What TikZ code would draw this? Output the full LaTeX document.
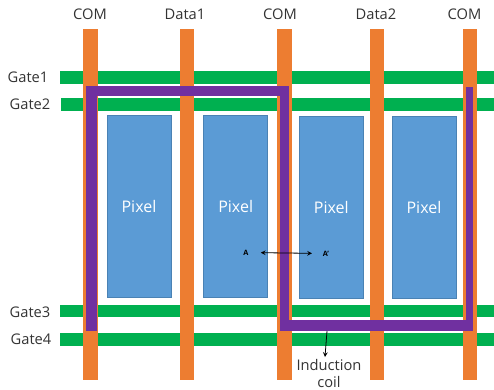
\documentclass[tikz,border=0pt]{standalone}
\usepackage{fontspec}
\setmainfont{Open Sans}
\usetikzlibrary{arrows,positioning}

\definecolor{gategreen}{HTML}{00B050}
\definecolor{linkorange}{HTML}{ED7D31}
\definecolor{coilpurple}{HTML}{7030A0}
\definecolor{pixelblue}{HTML}{5B9BD5}
\definecolor{pixeledge}{HTML}{4A82B4}
\definecolor{labelgray}{HTML}{333333}

\begin{document}
\begin{tikzpicture}[
    x=0.75pt, y=-0.75pt,
    node distance=24pt,
    gateline/.style={fill=gategreen},
    rail/.style={fill=linkorange},
    coil/.style={fill=coilpurple},
    pixel/.style={rectangle, draw=pixeledge, fill=pixelblue, line width=0.5pt, minimum width=48pt, minimum height=136.5pt, inner sep=0pt, text=white, font=\fontsize{12}{14}\selectfont},
    tag/.style={inner sep=0pt, text=labelgray, align=center, font=\fontsize{11}{13}\selectfont},
    cut/.style={inner sep=0pt, font=\rmfamily\bfseries\fontsize{5.5}{6}\selectfont},
    arrow/.style={->, >=stealth, line width=0.6pt}
]
\useasboundingbox (0,0) rectangle (494,390);

% Gate lines
\fill[gateline] (60,71) rectangle (494,84);
\fill[gateline] (61,98) rectangle (494,111);
\fill[gateline] (60,304.5) rectangle (494,317);
\fill[gateline] (60,332.5) rectangle (494,346);

% Vertical lines
\fill[rail] (83,29) rectangle (98,380);
\fill[rail] (179.5,29) rectangle (193.5,380);
\fill[rail] (277,29) rectangle (292,380);
\fill[rail] (369.5,29) rectangle (384,380);
\fill[rail] (462.5,29) rectangle (477,380);

% Pixels
\node[pixel] (pixel1) at (139,206) {Pixel};
\node[pixel, right=of pixel1] (pixel2) {Pixel};
\node[pixel, right=23.25pt of pixel2, yshift=-0.75pt] (pixel3) {Pixel};
\node[pixel, right=21pt of pixel3] (pixel4) {Pixel};

% Induction coil
\fill[coil] (86,86) rectangle (96.5,331);
\fill[coil] (86,86) rectangle (289,96);
\fill[coil] (280,86) rectangle (289,331);
\fill[coil] (280,320) rectangle (473,331);
\fill[coil] (465.5,86.5) rectangle (473,331);

% Top labels
\node[tag] (com1) at (90,14) {COM};
\node[tag] (data1) at (185,14) {Data1};
\node[tag] (com2) at (280,14) {COM};
\node[tag] (data2) at (376,14) {Data2};
\node[tag] (com3) at (464.5,14) {COM};

% Left labels
\node[tag] (gate1) at (28,77) {Gate1};
\node[tag] (gate2) at (30,104) {Gate2};
\node[tag] (gate3) at (30,312) {Gate3};
\node[tag] (gate4) at (31,339.5) {Gate4};

% Section marks
\node[cut] (a) at (246,252.5) {A};
\node[cut] (aprime) at (326,253.5) {A'};

% Coil label
\node[tag] (coillabel) at (329,373.5) {Induction\\coil};
\coordinate (coilstart) at (327,331);
\coordinate (coilend) at (325,357);

% Arrows
\draw[arrow, <->, shorten <=9pt, shorten >=8pt] (a) -- (aprime);
\draw[arrow] (coilstart) -- (coilend);

\end{tikzpicture}
\end{document}
